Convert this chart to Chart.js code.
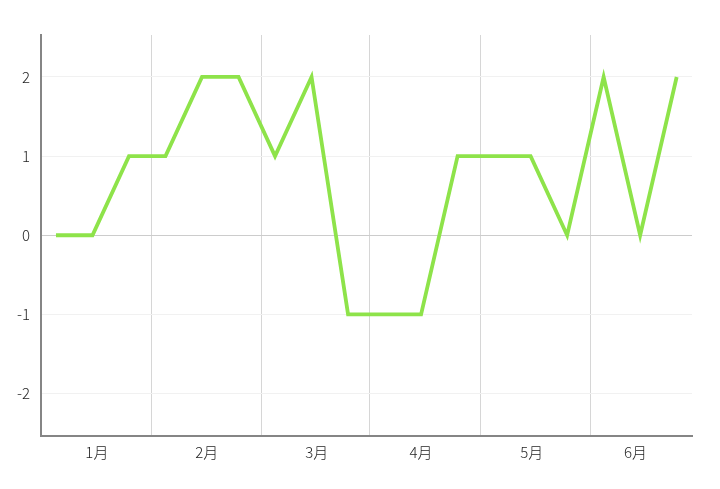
<!DOCTYPE html>
<html>
<head>
<meta charset="utf-8">
<script src="https://cdn.jsdelivr.net/npm/chart.js@4/dist/chart.umd.min.js"></script>
<style>
html,body{margin:0;padding:0;background:#fff;}
#wrap{width:720px;height:489px;}
</style>
</head>
<body>
<div id="wrap"><canvas id="c" width="720" height="489"></canvas></div>
<script>
const months = ['1月','2月','3月','4月','5月','6月'];
const values = [0,0,1,1,2,2,1,2,-1,-1,-1,1,1,1,0,2,0,2];
const yTicks = [-2,-1,0,1,2];

// layout of the month axis (in point-index units)
const labelPos = [1.12, 4.13, 7.14, 10.0, 13.03, 15.87];
const boundaryPos = [2.62, 5.64, 8.6, 11.63, 14.64];
const FONT = "'Noto Sans CJK SC', 'Noto Sans', sans-serif";

new Chart(document.getElementById('c'), {
  type: 'line',
  data: {
    datasets: [{
      data: values.map((v,i)=>({x:i,y:v})),
      borderColor: '#8ee34a',
      borderWidth: 3.8,
      pointRadius: 0,
      tension: 0,
      fill: false,
      borderJoinStyle: 'miter'
    }]
  },
  options: {
    responsive: false,
    animation: false,
    devicePixelRatio: 1,
    layout: { padding: { top: 35, right: 28, left: 0, bottom: 0 } },
    plugins: { legend: { display: false }, tooltip: { enabled: false } },
    scales: {
      x: {
        type: 'linear',
        min: -0.41,
        max: 17.42,
        afterBuildTicks: s => {
          const all = labelPos.concat(boundaryPos).sort((a,b)=>a-b);
          s.ticks = all.map(v=>({value:v}));
        },
        afterFit: s => { s.height = 53.5; },
        ticks: {
          autoSkip: false,
          maxRotation: 0,
          padding: 8,
          color: '#1e1e1e',
          font: { family: FONT, size: 15, weight: 300 },
          callback: function(v) {
            const idx = labelPos.indexOf(v);
            return idx >= 0 ? months[idx] : '';
          }
        },
        grid: {
          drawTicks: false,
          lineWidth: 1,
          color: ctx => (ctx.tick && boundaryPos.indexOf(ctx.tick.value) >= 0) ? '#d6d6d6' : 'rgba(0,0,0,0)'
        },
        border: { display: true, color: '#858585', width: 2 }
      },
      y: {
        type: 'linear',
        min: -2.53,
        max: 2.53,
        afterBuildTicks: s => { s.ticks = yTicks.map(v=>({value:v})); },
        afterFit: s => { s.width = 41; },
        ticks: {
          padding: 11,
          color: '#1e1e1e',
          font: { family: FONT, size: 15, weight: 300 }
        },
        grid: {
          drawTicks: false,
          lineWidth: 1,
          color: ctx => (ctx.tick && ctx.tick.value === 0) ? '#cccccc' : '#f1f1f1'
        },
        border: { display: true, color: '#858585', width: 2 }
      }
    }
  }
});
</script>
</body>
</html>
